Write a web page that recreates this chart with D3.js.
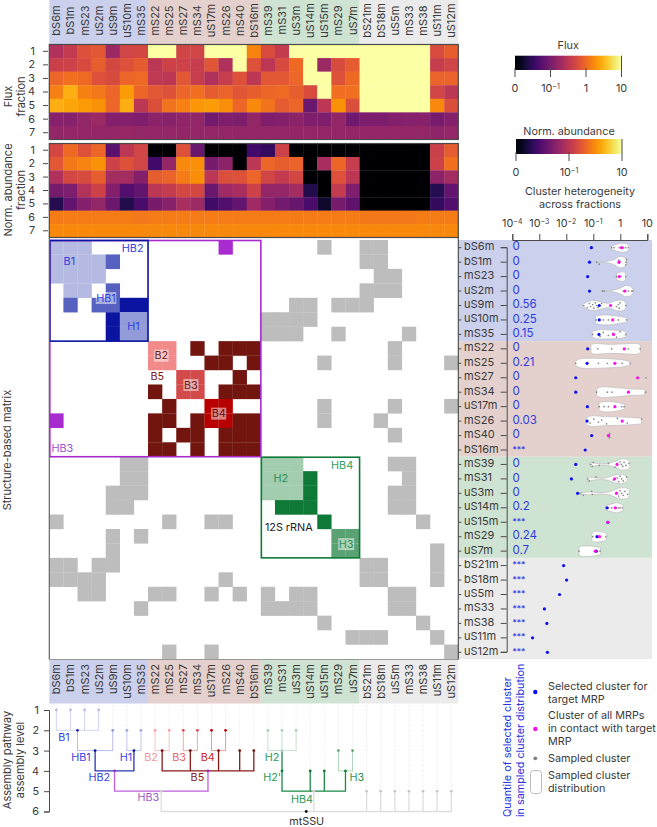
<!DOCTYPE html>
<html><head><meta charset="utf-8">
<script src="https://cdn.jsdelivr.net/npm/d3@7"></script>
<style>
html,body{margin:0;padding:0;background:#fff}
svg{display:block}
text{font-family:Inter,"Noto Sans",sans-serif;fill:#3a3a3a}
</style></head><body><svg id="c" width="657" height="827"></svg>
<script>
const proteins=["bS6m","bS1m","mS23","uS2m","uS9m","uS10m","mS35","mS22","mS25","mS27","mS34","uS17m","mS26","mS40","bS16m","mS39","mS31","uS3m","uS14m","uS15m","mS29","uS7m","bS21m","bS18m","uS5m","mS33","mS38","uS11m","uS12m"];
const groupColors=["#cbd0ec","#e4d1cd","#cfe3d3","#ebebeb"];
const groupSizes=[7,8,7,7];
const fractions=[1,2,3,4,5,6,7];
// heat values: position on the log colour bar, 0 (zero) to 1 (10)
const fluxRows=[
[.47,.52,.60,.62,.42,.56,.57,1,1,.56,.56,1,1,1,.73,.58,.52,1,1,1,1,1,1,1,1,1,1,.58,.64],
[.54,.55,.58,.64,.57,.60,.63,.50,.55,.55,.53,.61,.47,1,.60,.50,.58,.67,1,.42,.58,.63,1,1,1,1,1,.53,.56],
[.66,.68,.67,.60,.58,.66,.67,.51,.50,.62,.53,.47,.53,.60,.50,.62,.62,.66,1,1,.60,.67,1,1,1,1,1,.65,.65],
[.72,.82,.72,.70,.66,.78,.66,.62,.60,.66,.68,.63,.65,.61,.64,.66,.67,.64,.58,1,.68,.68,1,1,1,1,1,.56,.50],
[.82,.80,.78,.76,.66,.82,.50,.59,.69,.72,.77,.78,.75,.66,.74,.69,.63,.66,.30,.50,.76,.59,1,1,1,1,1,.74,.59],
[.37,.37,.40,.42,.36,.36,.35,.38,.37,.39,.40,.32,.35,.34,.40,.35,.36,.38,.35,.35,.40,.31,.34,.34,.36,.37,.37,.33,.36],
[.40,.40,.40,.40,.40,.41,.40,.40,.40,.40,.40,.40,.40,.40,.40,.40,.40,.40,.40,.40,.40,.40,.40,.40,.40,.40,.40,.39,.40]];
const abundanceRows=[
[.57,.67,.60,.66,.26,.50,.56,0,0,.60,.30,0,0,0,.20,.17,.55,0,0,0,0,0,0,0,0,0,0,.54,.63],
[.62,.70,.73,.76,.55,.60,.56,.20,.40,.74,.75,.33,.38,0,.50,.66,.64,.65,0,.45,.66,.53,0,0,0,0,0,.55,.68],
[.47,.57,.58,.64,.44,.44,.36,.64,.65,.71,.75,.50,.59,.60,.66,.56,.52,.57,0,0,.60,.50,0,0,0,0,0,.38,.44],
[.33,.34,.48,.55,.36,.24,.28,.50,.52,.57,.57,.30,.43,.45,.55,.40,.40,.44,.13,0,.52,.35,0,0,0,0,0,.14,.28],
[.14,.28,.36,.40,.30,.13,.22,.33,.37,.45,.42,.20,.24,.28,.43,.36,.32,.29,.22,.08,.33,.27,0,0,0,0,0,.17,.24],
[.71,.71,.71,.71,.71,.71,.70,.71,.71,.71,.71,.71,.71,.71,.71,.71,.71,.71,.71,.71,.71,.71,.70,.70,.70,.70,.71,.71,.71],
[.74,.74,.74,.74,.74,.74,.74,.74,.74,.74,.74,.74,.74,.74,.74,.74,.74,.74,.74,.74,.74,.74,.74,.74,.74,.74,.74,.74,.74]];
const matrixRows=[
"aaa.........p......g..gg.....",
"aaaam.................gg.....",
"aaaa...................gg....",
".aa.m.................ggg....",
".m.mmdd..........gg.ggg......",
"....dhh........gggg..........",
"....dhh........ggg..g....g...",
".......rr.k.kkk.........g....",
".......rr..kk.k....g....g...g",
".........ss..k...............",
".......k.ss.kkk..............",
"........k..tt......g....g...g",
"p......kk.kttkk....g...g.....",
".......k.kk.kkk.........g....",
".......kk.k.kkk..............",
".....gg........lll......gg...",
".....gg........llln......g...",
"....ggg........llln.....gg...",
"....gg..........nnn.....gg...",
"g.......g..gg......n......g..",
"....g.g.............oo.......",
"....g...............oo.....g.",
"gg.gg.................gg...g.",
"gggg........g.........gg...g.",
"..gg...gg..g.g.g.gg.....gg...",
"......g........gggg.....gg...",
"...................g......g..",
".....................ggg...g.",
"........g..g................g"];
const cellColors={a:"#b5bae2",m:"#5661c0",d:"#0a14a0",h:"#929ad8",p:"#a82bd0",r:"#f28a8a",s:"#d34a4a",t:"#b80000",k:"#71150e",l:"#a2cdae",n:"#0f7a38",o:"#5aa273",g:"#bdbdbd"};
const blocks=[["HB2",0,7,"#0a14a0"],["HB3",0,15,"#a82bd0"],["HB4",15,22,"#0f7a38"]];
const matrixLabels=[["B1",.92,.93,"#3040e0",0],["HB2",5.41,.03,"#3040e0",0],["HB1",3.52,3.49,"#3040e0",1],["H1",5.46,5.45,"#3040e0",0],["B2",7.44,7.48,"#6e2020",1],["B5",7.16,8.91,"#7a1a18",0],["B3",9.53,9.51,"#6e2020",1],["B4",11.51,11.49,"#5e1010",1],["HB3",.42,13.9,"#a050d0",0],["H2",15.91,15.95,"#2f8f55",0],["HB4",20.26,15.09,"#2f9f60",0],["12S rRNA",16.48,19.36,"#222",0],["H3",20.54,20.52,"#2f8f55",1]];
const quantiles=["0","0","0","0","0.56","0.25","0.15","0","0.21","0","0","0","0.03","0","***","0","0","0","0.2","***","0.24","0.7","***","***","***","***","***","***","***"];
// log10 of cluster heterogeneity
const selectedLog=[-1.07,-1.14,-1.21,-1.14,-.78,-.78,-.79,-1.21,-1.23,-1.65,-1.65,-1.22,-1.23,-1.06,-1.3,-1.65,-1.81,-1.58,-.49,-.46,-.86,-.89,-2.1,-1.99,-2.25,-2.81,-2.72,-3.25,-2.7];
const contactLog=[.05,-.05,-.04,.17,-.36,-.28,-.25,.15,-.2,.64,.3,-.2,.07,-.44,null,-.12,-.21,-.14,-.19,-.46,-.77,-.93,null,null,null,null,null,null,null];
const sampledLog=[
[-.32,-.23,-.04,.05,.11,.2,.3],
[-.88,-.78,-.06,-.04,-.01,.2,.23,.21],
[-.14,-.04,.02,.2],
[-.65,-.6,.11,.17,.3,.42,.46],
[-1.35,-1.22,-1.15,-1.1,-1.02,-.98,-.93,-.88,-.83,-.69,-.14,-.07,-.04,-.01,.2],
[-.9,-.63,-.44,-.28,-.07,.23],
[-1.02,-.75,-.63,-.44,-.28,-.14,-.01,.2],
[-1.19,-.83,-.32,.15,.3,.73],
[-1.65,-1.23,-.81,-.48,-.2,.07,.36],
[.95],
[-.88,-.48,-.31,.3,.94],
[-.78,-.6,-.44,-.2,.05,.14],
[-1.23,-1.12,-.98,-.81,-.69,-.51,-.11,.07,.26,.79],
[-.41,-.4,-.39,-.42,-.41],
[],
[-1.09,-1.04,-1,-.78,-.44,-.2,-.01,.04,.09,.14,.21,.32],
[-1.2,-1.15,-.9,-.26,-.11,-.06,-.01,.05,.11,.23],
[-1.47,-1.37,-1.06,-1.04,-.14,-.06,-.01,.05,.11,.17,.27],
[-.44,-.32,-.2,-.14,-.07,-.01,.07],
[],
[-1.02,-.88,-.54],
[-1.53,-.86,-.75],
[],[],[],[],[],[],[]];
// violin profiles: [log10 value, relative density]
const violinProfiles=[
[[-.38,.1],[-.2,.5],[.05,.8],[.23,.7],[.36,.1]],
[[-.88,.05],[-.51,.12],[-.2,.5],[-.04,1],[.17,.8],[.23,.3]],
[[-.14,.5],[-.01,.8],[.14,.8],[.2,.4]],
[[-.7,.05],[-.32,.1],[-.01,.5],[.2,1],[.42,.7],[.48,.2]],
[[-1.41,.1],[-1.19,.7],[-.94,.9],[-.69,.6],[-.44,.4],[-.14,.9],[.11,.9],[.21,.4]],
[[-.91,.7],[-.63,.9],[-.26,.8],[.11,.5],[.26,.4]],
[[-1.04,.5],[-.81,.8],[-.38,.8],[-.01,.7],[.21,.5]],
[[-1.09,.6],[-1,.9],[-.38,.8],[.23,.9],[.67,.9],[.75,.5]],
[[-1.67,.3],[-1.49,.8],[-1,.9],[-.38,.8],[.11,.6],[.38,.3]],
[],
[[-.88,.5],[-.75,.9],[-.14,.8],[.36,.6],[.91,.5]],
[[-.79,.6],[-.63,.9],[-.14,.8],[.17,.4]],
[[-1.26,.5],[-1.12,.9],[-.51,.8],[.23,.7],[.79,.5]],
[[-.46,.4],[-.38,.4]],
[],
[[-1.12,.4],[-.81,.15],[-.5,.15],[-.2,.5],[.05,1],[.3,.8],[.36,.2]],
[[-1.22,.4],[-.88,.15],[-.5,.2],[-.2,.7],[.11,.8],[.26,.3]],
[[-1.49,.1],[-1.12,.25],[-.75,.12],[-.38,.3],[-.01,1],[.3,.8],[.33,.3]],
[[-.54,.4],[-.32,.7],[-.14,.9],[.11,.5]],
[],
[[-1.06,.5],[-1,.9],[-.63,.8],[-.5,.5]],
[[-1.53,.7],[-1.43,.9],[-.88,.8],[-.73,.6]],
[],[],[],[],[],[],[]];
const heteroTicks=[1e-4,1e-3,1e-2,1e-1,1,10];
const assemblyLevels=[1,2,3,4,5,6];
const leafLevels=[1,1,1,1,2,2,2,2,2,2,2,2,2,3,3,2,2,2,4,4,3,3,5,5,5,5,5,5,5];
const leafColors=["#b8bce8","#b8bce8","#b8bce8","#b8bce8","#9098d8","#a0a8de","#a0a8de","#f4a0a0","#f4a0a0","#e04848","#e04848","#c00000","#c00000","#701010","#701010","#a8d0b4","#a8d0b4","#a8d0b4","#0f7a38","#0f7a38","#5aa273","#5aa273","#c8c8c8","#c8c8c8","#c8c8c8","#c8c8c8","#c8c8c8","#c8c8c8","#c8c8c8"];
const merges=[
{n:"B1",k:["bS6m","bS1m","mS23","uS2m"],l:2,c:"#d2d5f2",d:"#1e2ab0",w:1},
{n:"HB1",k:["B1","uS9m"],l:3,c:"#b8bdea",d:"#0a14a0",w:1},
{n:"H1",k:["uS10m","mS35"],l:3,c:"#c0c5ec",d:"#0a14a0",w:1},
{n:"HB2",k:["HB1","H1"],l:4,c:"#2b36b0",d:"#a82bd0",w:1.3},
{n:"B2",k:["mS22","mS25"],l:3,c:"#f8c4c4",d:"#701010",w:1},
{n:"B3",k:["mS27","mS34"],l:3,c:"#f0a8a8",d:"#701010",w:1},
{n:"B4",k:["uS17m","mS26"],l:3,c:"#ea9a9a",d:"#701010",w:1},
{n:"B5",k:["B2","B3","B4","mS40","bS16m"],l:4,c:"#8a1a18",d:"#a82bd0",w:1.3},
{n:"HB3",k:["HB2","B5"],l:5,c:"#c060e0",d:"#cfcfcf",w:1.3},
{n:"H2",k:["mS39","mS31","uS3m"],l:3,c:"#c6e0cd",d:"#a8d0b4",w:1},
{n:"H2p",k:["H2"],l:4,c:"#1a8a45",d:"#0f7a38",w:1.3},
{n:"H3",k:["mS29","uS7m"],l:4,c:"#b0d4bb",d:"#0f7a38",w:1},
{n:"HB4",k:["H2p","uS14m","uS15m","H3"],l:5,c:"#1a8a45",d:"#d8c8c8",w:1.3},
{n:"mtSSU",k:["HB3","HB4","bS21m","bS18m","uS5m","mS33","mS38","uS11m","uS12m"],l:6,c:"#dedede",d:"#111",w:1.3}];
const dendroLabels=[["B1",.54,2.33,"#3a45e0"],["HB1",1.75,3.32,"#3a45e0"],["H1",4.94,3.32,"#3a45e0"],["HB2",3.05,4.3,"#3a45e0"],["B2",6.71,3.32,"#f09a9a"],["B3",8.7,3.32,"#e06a6a"],["B4",10.73,3.32,"#c82a2a"],["B5",10,4.3,"#8a1a18"],["HB3",6.52,5.29,"#a060c8"],["H2",15.3,3.32,"#2c9a58"],["H2'",15.3,4.3,"#2c9a58"],["H3",21.3,4.3,"#2c9a58"],["HB4",17.42,5.37,"#2c9a58"],["mtSSU",17.75,6.45,"#333"]];
const legendEntries=[[["Selected cluster for","target MRP"],686],[["Cluster of all MRPs","in contact with target","MRP"],715.5],[["Sampled cluster"],758],[["Sampled cluster","distribution"],775]];

const svg=d3.select("#c");
const AXIS="#4a4a4a",FS=10.8,PFS=11;
const x=d3.scaleBand().domain(proteins).range([49.3,458.3]);
const yM=d3.scaleBand().domain(proteins).range([240,659]);
const yFlux=d3.scaleBand().domain(fractions).range([44.5,139.5]);
const yAb=d3.scaleBand().domain(fractions).range([143.5,237.5]);
const color=d3.scaleSequential(d3.interpolateInferno).domain([0,1]);

// group bands
function groupRanges(){let s=0;return groupSizes.map((n,i)=>{const r={a:proteins[s],b:proteins[s+n-1],c:groupColors[i]};s+=n;return r;});}
const groups=groupRanges();
const bands=svg.append("g");
groups.forEach(g=>{
  const x0=x(g.a),x1=x(g.b)+x.bandwidth();
  bands.append("rect").attr("x",x0).attr("y",0).attr("width",x1-x0).attr("height",44.5).attr("fill",g.c);
  bands.append("rect").attr("x",x0).attr("y",660).attr("width",x1-x0).attr("height",43.5).attr("fill",g.c);
  const y0=yM(g.a),y1=yM(g.b)+yM.bandwidth();
  bands.append("rect").attr("x",458.3).attr("y",y0).attr("width",193.7).attr("height",y1-y0).attr("fill",g.c);
});
proteins.forEach(p=>{
  const cx=x(p)+x.bandwidth()/2;
  svg.append("text").attr("transform",`translate(${cx+4},20.5) rotate(-90)`).attr("text-anchor","middle").attr("font-size",PFS).text(p);
  svg.append("text").attr("transform",`translate(${cx+4},664) rotate(-90)`).attr("text-anchor","end").attr("font-size",PFS).text(p);
});

// heatmaps
function heat(rows,y){
  const g=svg.append("g");
  rows.forEach((r,ri)=>r.forEach((v,ci)=>{
    g.append("rect").attr("x",x(proteins[ci])).attr("y",y(fractions[ri])).attr("width",x.bandwidth()+.3).attr("height",y.bandwidth()+.3).attr("fill",color(v));
  }));
  const [a,b]=y.range();
  svg.append("rect").attr("x",49.3).attr("y",a).attr("width",409).attr("height",b-a).attr("fill","none").attr("stroke",AXIS).attr("stroke-width",1.2);
  const ax=svg.append("g").attr("transform","translate(48,0)").call(d3.axisLeft(y).tickSize(5).tickPadding(8));
  ax.select(".domain").remove();
  ax.selectAll("line").attr("stroke",AXIS);
  ax.selectAll("text").attr("font-size",FS);
  ax.attr("font-family",null).attr("font-size",null);
}
heat(fluxRows,yFlux);heat(abundanceRows,yAb);

// matrix
const mg=svg.append("g");
matrixRows.forEach((row,ri)=>row.split("").forEach((ch,ci)=>{
  if(ch==="."||!cellColors[ch])return;
  mg.append("rect").attr("x",x(proteins[ci])).attr("y",yM(proteins[ri])).attr("width",x.bandwidth()+.2).attr("height",yM.bandwidth()+.2).attr("fill",cellColors[ch]);
}));
blocks.slice().reverse().forEach(b=>{
  const x0=x(proteins[b[1]]),y0=yM(proteins[b[1]]),x1=x(proteins[b[2]-1])+x.bandwidth(),y1=yM(proteins[b[2]-1])+yM.bandwidth();
  svg.append("rect").attr("x",x0+.5).attr("y",y0+.5).attr("width",x1-x0-.5).attr("height",y1-y0-.5).attr("fill","none").attr("stroke",b[3]).attr("stroke-width",1.6);
});
svg.append("line").attr("x1",49.3).attr("x2",49.3).attr("y1",238).attr("y2",659.5).attr("stroke","#666").attr("stroke-width",1.2);
svg.append("line").attr("x1",49).attr("x2",458.3).attr("y1",659.5).attr("y2",659.5).attr("stroke","#999").attr("stroke-width",1);
svg.append("line").attr("x1",458.3).attr("x2",458.3).attr("y1",238).attr("y2",659.5).attr("stroke","#444").attr("stroke-width",1.1);
const xc=c=>x(proteins[0])+x.bandwidth()*(c+.5), yc=r=>yM(proteins[0])+yM.bandwidth()*(r+.5);
matrixLabels.forEach(l=>{
  const t=svg.append("text").attr("x",xc(l[1])).attr("y",yc(l[2])+3.9).attr("text-anchor","middle").attr("font-size",FS).text(l[0]).style("fill",l[3]);
  if(l[4]){const b=t.node().getBBox();svg.insert("rect",()=>t.node()).attr("x",b.x-.5).attr("y",b.y+.5).attr("width",b.width+1).attr("height",b.height-1).attr("fill","#fff").attr("opacity",.5);}
});

// left titles
function vtext(tx,ty,s,anchor,col,fs){const t=svg.append("text").attr("transform",`translate(${tx},${ty}) rotate(-90)`).attr("text-anchor",anchor||"middle").attr("font-size",fs||11).text(s);if(col)t.style("fill",col);return t;}
vtext(12,96.5,"Flux");vtext(25,96.5,"fraction");
vtext(12,190,"Norm. abundance");vtext(25,190,"fraction");
vtext(11,450,"Structure-based matrix");
vtext(11,760,"Assembly pathway");vtext(24,760,"assembly level");

// colour bars
const defs=svg.append("defs");
const grad=defs.append("linearGradient").attr("id","inf");
d3.range(0,1.001,.05).forEach(t=>grad.append("stop").attr("offset",t).attr("stop-color",color(t)));
function sup(sel,base,exp){sel.text(base);if(exp)sel.append("tspan").attr("dy",-3.5).attr("font-size",7).text(exp);}
function colorbar(x0,x1,y0,y1,title,titleY,ticks){
  svg.append("rect").attr("x",x0).attr("y",y0).attr("width",x1-x0).attr("height",y1-y0).attr("fill","url(#inf)");
  svg.append("text").attr("x",(x0+x1)/2).attr("y",titleY).attr("text-anchor","middle").attr("font-size",FS).text(title);
  const s=d3.scaleLinear().domain([0,1]).range([x0,x1]);
  ticks.forEach(t=>{
    svg.append("line").attr("x1",s(t[0])).attr("x2",s(t[0])).attr("y1",t[0]===1?y0:y1-2).attr("y2",y1+7).attr("stroke",AXIS);
    const tx=svg.append("text").attr("x",s(t[0])).attr("y",y1+22).attr("text-anchor","middle").attr("font-size",FS);
    sup(tx,t[1],t[2]);
  });
}
colorbar(515,621.5,55.7,70,"Flux",48.5,[[0,"0"],[1/3,"10","−1"],[2/3,"1"],[1,"10"]]);
colorbar(516,622,139,154,"Norm. abundance",134.5,[[0,"0"],[.5,"10","−1"],[1,"10"]]);
svg.append("text").attr("x",580).attr("y",195).attr("text-anchor","middle").attr("font-size",FS).text("Cluster heterogeneity");
svg.append("text").attr("x",580).attr("y",208).attr("text-anchor","middle").attr("font-size",FS).text("across fractions");

// right panel
const h=d3.scaleLog().domain([1e-4,10]).range([512.3,647.3]);
const yP=d3.scalePoint().domain(proteins).range([247.2,651.8]);
const topAx=svg.append("g").attr("transform","translate(0,240)").call(d3.axisTop(h).tickValues(heteroTicks).tickSize(6).tickFormat(""));
topAx.select(".domain").attr("stroke",AXIS);topAx.selectAll("line").attr("stroke",AXIS);
const expLabel={0.0001:"−4",0.001:"−3",0.01:"−2",0.1:"−1"};
heteroTicks.forEach(t=>{
  const el=svg.append("text").attr("x",h(t)).attr("y",227).attr("text-anchor","middle").attr("font-size",FS);
  if(t>=1)el.text(t);else sup(el,"10",expLabel[t]);
});
const rowAx=svg.append("g").attr("transform","translate(506.7,0)").call(d3.axisLeft(yP).tickSize(6).tickPadding(0));
rowAx.select(".domain").attr("stroke",AXIS);rowAx.selectAll("line").attr("stroke",AXIS);
rowAx.attr("font-family",null).attr("font-size",null);
rowAx.selectAll("text").attr("x",-42.7).attr("y",-1).attr("dy",".32em").attr("text-anchor","start").attr("font-size",PFS);
const sideAx=svg.append("g").attr("transform","translate(458.3,0)").call(d3.axisRight(yP).tickSize(3).tickFormat(""));
sideAx.select(".domain").remove();sideAx.selectAll("line").attr("stroke",AXIS);

const densW=d3.scaleLinear().domain([0,1]).range([0,5.6]);
const area=d3.area().x(d=>h(10**d[0])).curve(d3.curveCatmullRom.alpha(.5));
const jitter=[0,2.4,-2.4,1.2,-1.2,3.2,-3.2];
proteins.forEach((p,i)=>{
  const cy=yP(p)+.5;
  const prof=violinProfiles[i];
  if(prof.length){
    svg.append("path").datum(prof).attr("d",area.y0(d=>cy-densW(d[1])).y1(d=>cy+densW(d[1]))).attr("fill","#fff").attr("stroke","#bdbdbd").attr("stroke-width",.7);
  }
  sampledLog[i].forEach((v,j)=>{
    const jy=sampledLog[i].length>7||prof.length<3?jitter[j%7]*(densW(.45)/3):0;
    svg.append("circle").attr("cx",h(10**v)).attr("cy",cy+jy).attr("r",.85).attr("fill","#8a8a8a");
  });
  svg.append("circle").attr("cx",h(10**selectedLog[i])).attr("cy",cy).attr("r",1.6).attr("fill","#0a10f0");
  if(contactLog[i]!==null)svg.append("circle").attr("cx",h(10**contactLog[i])).attr("cy",cy).attr("r",1.6).attr("fill","#ff10e8");
  const stars=quantiles[i]==="***";
  svg.append("text").attr("x",512.5).attr("y",cy+2.6).attr("font-size",stars?8.5:11.5).text(quantiles[i]).style("fill","#2f3be0");
});

// dendrogram
const yD=d3.scalePoint().domain(assemblyLevels).range([710,811.5]);
const dax=svg.append("g").attr("transform","translate(49,0)").call(d3.axisLeft(yD).tickSize(5).tickPadding(5));
dax.select(".domain").attr("stroke",AXIS);dax.selectAll("line").attr("stroke",AXIS);
dax.attr("font-family",null).attr("font-size",null);dax.selectAll("text").attr("font-size",FS);
const nodes={};
proteins.forEach((p,i)=>{nodes[p]={c:i,l:leafLevels[i],col:leafColors[i]};});
const dg=svg.append("g").attr("fill","none");
proteins.forEach((p,i)=>{
  dg.append("line").attr("x1",xc(i)).attr("x2",xc(i)).attr("y1",705).attr("y2",yD(leafLevels[i])).attr("stroke","#d8d8d8").attr("stroke-width",.6).attr("stroke-dasharray","1 1.5");
});
const nodeList=proteins.map(p=>nodes[p]);
merges.forEach(m=>{
  const kids=m.k.map(k=>nodes[k]);
  const ext=d3.extent(kids,k=>k.c);
  const c=(ext[0]+ext[1])/2;
  const n={c,l:m.l,col:m.d};nodes[m.n]=n;nodeList.push(n);
  const yy=yD(m.l);
  kids.forEach(k=>dg.append("line").attr("x1",xc(k.c)).attr("x2",xc(k.c)).attr("y1",yD(k.l)).attr("y2",yy).attr("stroke",m.c).attr("stroke-width",m.w));
  if(ext[1]>ext[0])dg.append("line").attr("x1",xc(ext[0])-.5).attr("x2",xc(ext[1])+.5).attr("y1",yy).attr("y2",yy).attr("stroke",m.c).attr("stroke-width",m.w);
});
nodeList.forEach(n=>svg.append("circle").attr("cx",xc(n.c)).attr("cy",yD(n.l)).attr("r",1.4).attr("fill",n.col));
const yLvl=d3.scaleLinear().domain([1,6]).range([710,811.5]);
dendroLabels.forEach(l=>svg.append("text").attr("x",xc(l[1])).attr("y",yLvl(l[2])+3.9).attr("text-anchor","middle").attr("font-size",FS).text(l[0]).style("fill",l[3]));

// legend
vtext(510.5,817,"Quantile of selected cluster","start","#2a35e0",FS);
vtext(524,817,"in sampled cluster distribution","start","#2a35e0",FS);
svg.append("circle").attr("cx",535.3).attr("cy",692).attr("r",2.2).attr("fill","#0a10f0");
svg.append("circle").attr("cx",535.3).attr("cy",729).attr("r",2.2).attr("fill","#ff10e8");
svg.append("circle").attr("cx",535.3).attr("cy",758.3).attr("r",1.9).attr("fill","#808080");
svg.append("rect").attr("x",530.5).attr("y",770.5).attr("width",11).attr("height",23).attr("rx",3).attr("fill","#fff").attr("stroke","#bbb").attr("stroke-width",1);
legendEntries.forEach(e=>e[0].forEach((s,i)=>svg.append("text").attr("x",548).attr("y",e[1]+3.8+i*13).attr("font-size",FS).text(s)));
</script></body></html>
